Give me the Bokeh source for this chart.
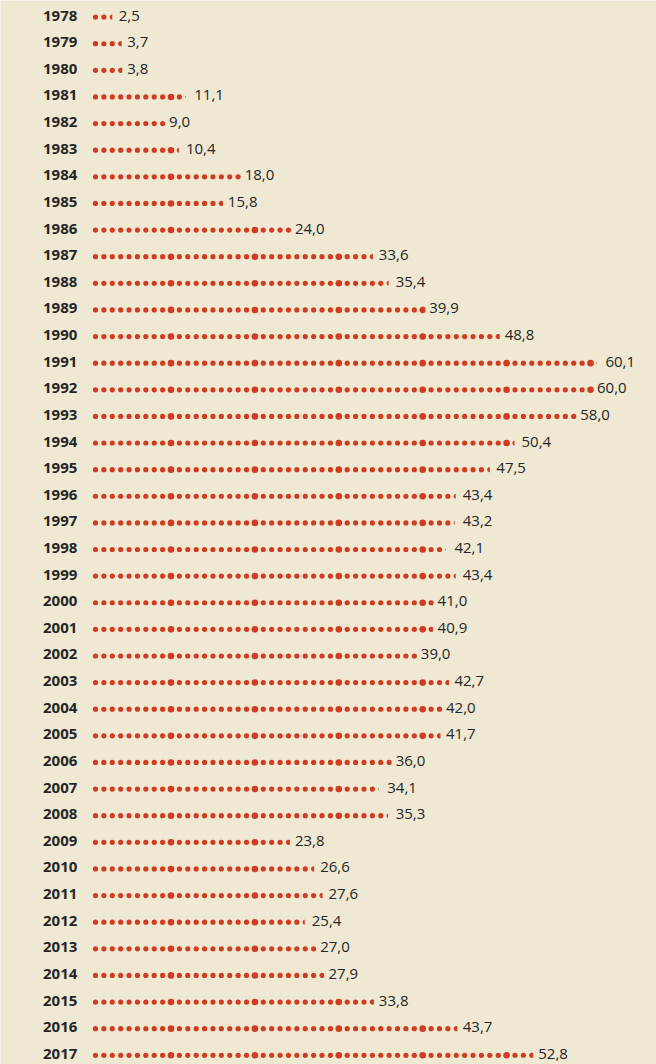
import math
import numpy as np
from bokeh.plotting import figure
from bokeh.models import ColumnDataSource, Range1d
from bokeh.core.properties import value
from bokeh.embed import file_html
from bokeh.resources import INLINE

years = [1978, 1979, 1980, 1981, 1982, 1983, 1984, 1985, 1986, 1987,
         1988, 1989, 1990, 1991, 1992, 1993, 1994, 1995, 1996, 1997,
         1998, 1999, 2000, 2001, 2002, 2003, 2004, 2005, 2006, 2007,
         2008, 2009, 2010, 2011, 2012, 2013, 2014, 2015, 2016, 2017]
values = [2.5, 3.7, 3.8, 11.1, 9.0, 10.4, 18.0, 15.8, 24.0, 33.6,
          35.4, 39.9, 48.8, 60.1, 60.0, 58.0, 50.4, 47.5, 43.4, 43.2,
          42.1, 43.4, 41.0, 40.9, 39.0, 42.7, 42.0, 41.7, 36.0, 34.1,
          35.3, 23.8, 26.6, 27.6, 25.4, 27.0, 27.9, 33.8, 43.7, 52.8]

BG = "#efe8d3"
RED = "#d13b1f"
TXT = "#262626"

W, H = 656, 1064
SX = 8.39    # px per unit (one dot)
SY = 26.62   # px per row
X0 = 0.5 - 95 / SX
Y_TOP = -16.6 / SY

R_SMALL = 2.6
R_BIG = 3.3

fx, fy, fs = [], [], []
px_list, py_list = [], []
lx, ly, ltxt = [], [], []
for k, (yr, v) in enumerate(zip(years, values)):
    n_full = int(math.floor(v + 1e-9))
    frac = round(v - n_full, 3)
    for i in range(1, n_full + 1):
        fx.append(i - 0.5)
        fy.append(k)
        fs.append(2 * (R_BIG if i % 10 == 0 else R_SMALL))
    last = n_full
    if frac > 0:
        i = n_full + 1
        r = R_BIG if i % 10 == 0 else R_SMALL
        cut = -r + frac * 2 * r
        a = math.acos(max(-1.0, min(1.0, cut / r)))
        ang = np.linspace(a, 2 * math.pi - a, 40)
        px_list.append(list((i - 0.5) + r * np.cos(ang) / SX))
        py_list.append(list(k + r * np.sin(ang) / SY))
        last = i
    lx.append(last - 0.5)
    ly.append(k)
    ltxt.append(f"{v:.1f}".replace(".", ","))

p = figure(width=W, height=H, output_backend="svg", toolbar_location=None,
           x_range=Range1d(X0, X0 + W / SX),
           y_range=Range1d(Y_TOP + H / SY, Y_TOP),
           min_border=0, background_fill_color=BG, border_fill_color=BG)
p.xaxis.visible = False
p.yaxis.visible = False
p.grid.visible = False
p.outline_line_color = None

p.scatter(x="x", y="y", size="s", source=ColumnDataSource(dict(x=fx, y=fy, s=fs)),
          marker="circle", fill_color=RED, line_color=None)
p.patches(xs=px_list, ys=py_list, fill_color=RED, line_color=None)

p.text(x=[0] * len(years), y=list(range(len(years))), text=[str(y) for y in years],
       x_offset=-14, y_offset=-1.5, text_align="right", text_baseline="middle",
       text_font=value("Open Sans"), text_font_style="bold", text_font_size="15px",
       text_color=TXT)
p.text(x=lx, y=ly, text=ltxt, x_offset=6.5, y_offset=-1.5, text_align="left",
       text_baseline="middle",
       text_font=value("Open Sans"), text_font_size="15px", text_color=TXT)

open("out.html", "w").write(file_html(p, INLINE, title="chart"))
